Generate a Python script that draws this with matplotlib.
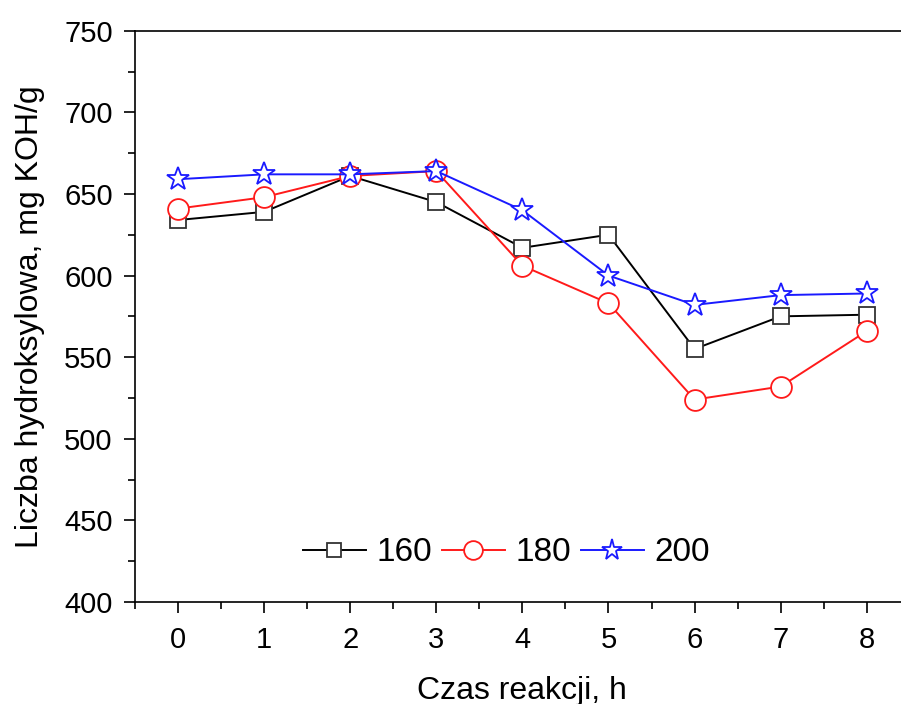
import matplotlib
matplotlib.use("Agg")
import matplotlib.pyplot as plt
from matplotlib.ticker import MultipleLocator

plt.rcParams['font.family'] = ['Liberation Sans', 'DejaVu Sans']

# reaction time, h
czas = [0, 1, 2, 3, 4, 5, 6, 7, 8]
# hydroxyl number, mg KOH/g, for each temperature
t160 = [634, 639, 661, 645, 617, 625, 555, 575, 576]
t180 = [641, 648, 661, 664, 606, 583, 524, 532, 566]
t200 = [659, 662, 662, 664, 640, 600, 582, 588, 589]
labels = ['160', '180', '200']

fig = plt.figure(figsize=(9.01, 7.04), dpi=100)
ax = fig.add_axes([0.1498, 0.1449, 0.86, 0.8115])

ax.plot(czas, t160, '-s', color='black', lw=1.4, ms=11, mfc='white',
        mec='#333333', mew=1.3, label=labels[0])
ax.plot(czas, t180, '-o', color='#ff1a1a', lw=1.4, ms=15, mfc='white',
        mew=1.3, label=labels[1])
ax.plot(czas, t200, '-*', color='#1a1aff', lw=1.4, ms=17, mfc='white',
        mew=1.3, label=labels[2])

ax.set_xlim(-0.5, 8.5)
ax.set_ylim(400, 750)
ax.xaxis.set_major_locator(MultipleLocator(1))
ax.xaxis.set_minor_locator(MultipleLocator(0.5))
ax.yaxis.set_major_locator(MultipleLocator(50))
ax.yaxis.set_minor_locator(MultipleLocator(25))
ax.tick_params(which='both', direction='out', width=1.2, top=False, right=False)
ax.tick_params(which='major', length=8)
ax.tick_params(which='minor', length=5)
ax.tick_params(axis='y', labelsize=21, pad=8)
ax.tick_params(axis='x', labelsize=21, pad=9)
for s in ax.spines.values():
    s.set_linewidth(1.2)
ax.spines['right'].set_visible(False)

ax.set_xlabel('Czas reakcji, h', fontsize=23, labelpad=16)
ax.set_ylabel('Liczba hydroksylowa, mg KOH/g', fontsize=23, labelpad=14)

ax.legend(loc='center', bbox_to_anchor=(0.479, 0.086), ncol=3, frameon=False,
          fontsize=24, handlelength=1.9, columnspacing=0.3, handletextpad=0.3,
          markerscale=0.9)

fig.savefig('out.png', dpi=100)
